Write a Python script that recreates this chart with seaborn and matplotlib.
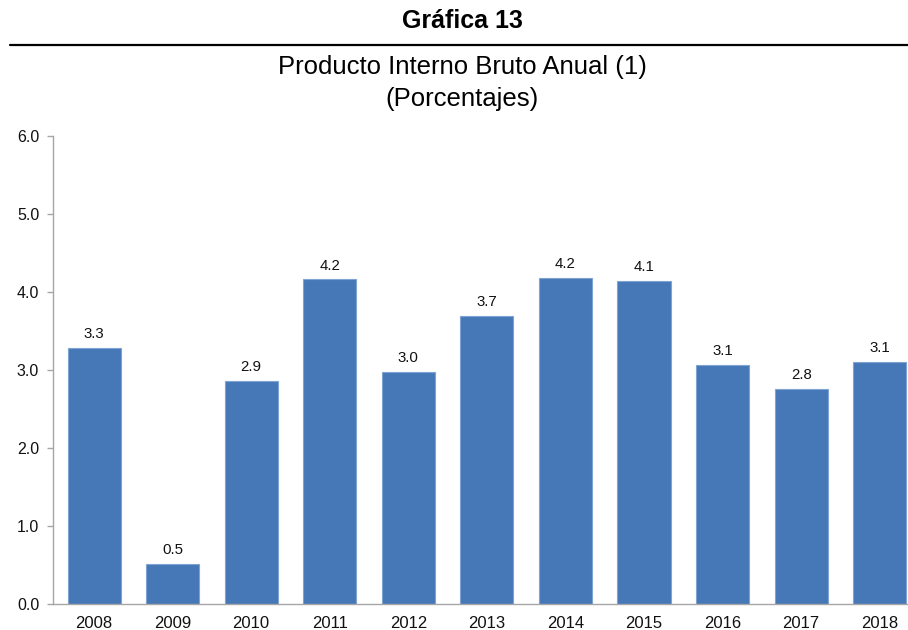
import matplotlib
matplotlib.use("Agg")
import matplotlib.pyplot as plt
import seaborn as sns
import pandas as pd
from matplotlib.lines import Line2D

# Annual GDP growth, percent
years = ["2008", "2009", "2010", "2011", "2012", "2013", "2014", "2015", "2016", "2017", "2018"]
growth = [3.28, 0.51, 2.86, 4.16, 2.97, 3.69, 4.18, 4.14, 3.07, 2.76, 3.10]
y_ticks = [0.0, 1.0, 2.0, 3.0, 4.0, 5.0, 6.0]

title = "Gráfica 13"
subtitle = "Producto Interno Bruto Anual (1)\n(Porcentajes)"

sns.set_theme(style="white")
plt.rcParams["font.family"] = ["Liberation Sans", "DejaVu Sans"]

df = pd.DataFrame({"year": years, "growth": growth})

fig = plt.figure(figsize=(9.08, 6.3), dpi=100)
ax = fig.add_axes([0.0584, 0.0413, 0.9416, 0.7429])

bar_color = "#4677B7"
sns.barplot(data=df, x="year", y="growth", color=bar_color, width=0.675,
            saturation=1, edgecolor="#7FA3D3", linewidth=0.8, ax=ax)

for cont in ax.containers:
    ax.bar_label(cont, labels=[f"{v:.1f}" for v in growth], padding=5,
                 fontsize=10.8, color="#111111")

ax.set_ylim(0, 6)
ax.set_xlim(-0.522, 10.36)
ax.set_yticks(y_ticks)
ax.set_yticklabels([f"{t:.1f}" for t in y_ticks])
ax.set_xlabel("")
ax.set_ylabel("")

for side in ("top", "right"):
    ax.spines[side].set_visible(False)
for side in ("left", "bottom"):
    ax.spines[side].set_color("#A6A6A6")
    ax.spines[side].set_linewidth(1.0)

ax.tick_params(axis="y", which="both", left=True, length=4, width=1,
               color="#A6A6A6", labelsize=11.5, pad=6, labelcolor="#111111")
ax.tick_params(axis="x", which="both", bottom=False, labelsize=12,
               pad=3, labelcolor="#111111")

# Header
fig.text(0.509, 0.966, title, ha="center", va="center", fontsize=18,
         fontweight="bold", color="black")
fig.add_artist(Line2D([0.011, 1.0], [0.928, 0.928], transform=fig.transFigure,
                      color="black", linewidth=1.6))
fig.text(0.509, 0.868, subtitle, ha="center", va="center", fontsize=18.5,
         color="black", linespacing=1.45)

fig.savefig("out.png", dpi=100, facecolor="white")
